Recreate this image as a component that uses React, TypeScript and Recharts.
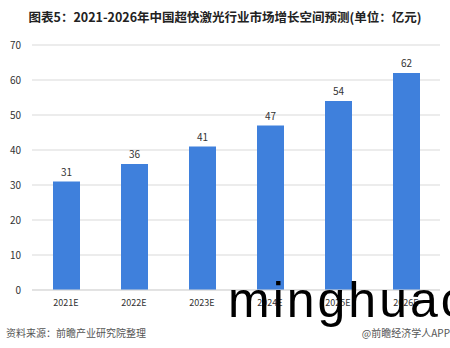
import { BarChart, Bar, XAxis, YAxis, CartesianGrid, LabelList } from 'recharts';

const years = ['2021E', '2022E', '2023E', '2024E', '2025E', '2026E'];
const marketSize = [31, 36, 41, 47, 54, 62];
const yTicks = [0, 10, 20, 30, 40, 50, 60, 70];

const data = years.map((year, i) => ({ year, value: marketSize[i] }));

const FONT = '"Microsoft YaHei", "Noto Sans CJK SC", "Liberation Sans", sans-serif';

export default function App() {
  return (
    <div
      style={{
        position: 'absolute',
        left: 0,
        top: 0,
        width: 450,
        height: 348,
        background: '#fff',
        fontFamily: FONT,
        overflow: 'hidden',
      }}
    >
      <div
        style={{
          position: 'absolute',
          top: 7,
          left: 0,
          width: 450,
          textAlign: 'center',
          fontSize: 12.5,
          fontWeight: 'bold',
          color: '#222',
        }}
      >
        图表5：2021-2026年中国超快激光行业市场增长空间预测(单位：亿元)
      </div>
      <BarChart
        width={450}
        height={348}
        data={data}
        margin={{ top: 45, right: 10, left: 0, bottom: 38 }}
      >
        <CartesianGrid vertical={false} stroke="#d9d9d9" />
        <XAxis
          dataKey="year"
          axisLine={{ stroke: '#d9d9d9' }}
          tickLine={false}
          height={20}
          tick={{ fill: '#333', fontSize: 9 }}
          tickMargin={4}
        />
        <YAxis
          width={32}
          domain={[0, 70]}
          ticks={yTicks}
          axisLine={false}
          tickLine={false}
          tickMargin={5}
          tick={{ fill: '#333', fontSize: 10 }}
        />
        <Bar dataKey="value" fill="#3f80dc" barSize={27} isAnimationActive={false}>
          <LabelList dataKey="value" position="top" offset={6} fill="#333" fontSize={10} />
        </Bar>
      </BarChart>
      <div
        style={{
          position: 'absolute',
          left: 6,
          top: 325,
          fontSize: 10,
          color: '#555',
        }}
      >
        资料来源：前瞻产业研究院整理
      </div>
      <div
        style={{
          position: 'absolute',
          right: 0,
          top: 325,
          fontSize: 10,
          color: '#555',
        }}
      >
        @前瞻经济学人APP
      </div>
      <div
        style={{
          position: 'absolute',
          left: 228,
          top: 272,
          fontSize: 50,
          lineHeight: '56px',
          letterSpacing: 3,
          fontFamily: '"Liberation Sans", Arial, sans-serif',
          color: '#000',
          whiteSpace: 'nowrap',
        }}
      >
        minghuac
      </div>
    </div>
  );
}
